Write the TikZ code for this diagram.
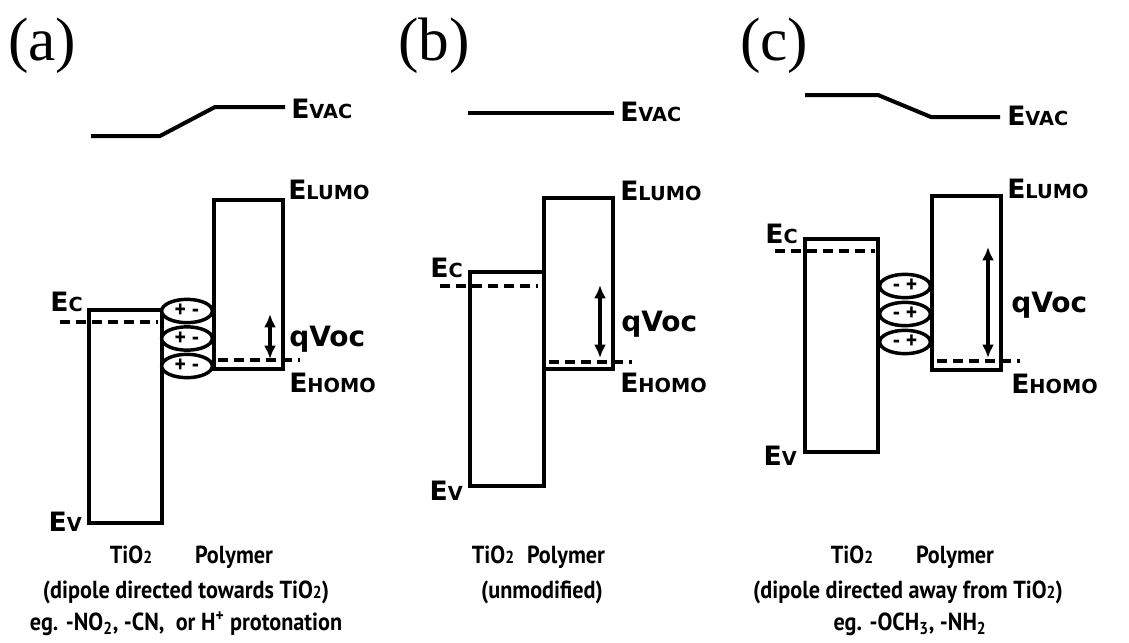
\documentclass[tikz,border=0pt]{standalone}
\usepackage{fontspec}
\setmainfont{Liberation Serif}
\newfontfamily\lblfont{DejaVu Sans}
\newfontfamily\capfont[FakeStretch=0.9]{PT Sans}
\usepackage{tikz}
\usetikzlibrary{arrows.meta, shapes.geometric}

\newcommand{\elev}[1]{{\lblfont\bfseries\fontsize{20}{22}\selectfont E\fontsize{14.5}{16}\selectfont #1}}
\newcommand{\tio}{TiO{\fontsize{13}{14}\selectfont 2}}

\begin{document}
\begin{tikzpicture}[x=0.75pt, y=-0.75pt, >=Latex,
  band/.style={draw, line width=3pt},
  fermi/.style={line width=2.8pt, dash pattern=on 7.5pt off 4.5pt},
  vac/.style={line width=3pt, line join=miter},
  dipole/.style={draw, ellipse, fill=white, line width=2.6pt, minimum width=38pt,
    minimum height=17.5pt, inner sep=0pt, font=\capfont\bfseries\fontsize{18}{18}\selectfont},
  voc/.style={{Latex[length=10pt,width=9pt]}-{Latex[length=10pt,width=9pt]}, line width=2.4pt},
  elbl/.style={anchor=base west, inner sep=0pt},
  elblr/.style={anchor=base east, inner sep=0pt},
  vlbl/.style={anchor=base west, inner sep=0pt, font=\lblfont\bfseries\fontsize{21}{22}\selectfont},
  panel/.style={anchor=base west, inner sep=0pt, font=\fontsize{46}{48}\selectfont},
  caplbl/.style={anchor=base, inner sep=0pt, font=\capfont\bfseries\fontsize{18.5}{20}\selectfont}]
\useasboundingbox (0,0) rectangle (1129,643);

% (a) dipole towards TiO2
\node[panel] (pa) at (8,60) {(a)};
\draw[vac] (91,136) -- (160,136) -- (215,107) -- (285,107);
\node[elbl] (evaca) at (291,118) {\elev{VAC}};
\draw[band] (89,310) rectangle (162,523);
\draw[band] (214,200) rectangle (283,369);
\node[elbl] (lumoa) at (288,199) {\elev{LUMO}};
\node[elbl] (homoa) at (289,392) {\elev{HOMO}};
\node[elblr] (eca) at (83,311) {\elev{C}};
\node[elblr] (eva) at (82,531) {\elev{V}};
\draw[fermi] (60,322) -- (158,322);
\draw[fermi] (218,360) -- (300,360);
\node[dipole] (da1) at (187,311) {+ -};
\node[dipole] (da2) at (187,338.5) {+ -};
\node[dipole] (da3) at (187,366) {+ -};
\coordinate (vta) at (270,314);
\coordinate (vba) at (270,359);
\draw[voc] (vta) -- (vba);
\node[vlbl] (voca) at (289,346) {qVoc};
\node[caplbl] (ta) at (131,563) {\tio};
\node[caplbl] (pola) at (234,563) {Polymer};
\node[caplbl] (notea) at (186,598) {(dipole directed towards \tio)};
\node[caplbl] (exa) at (186,630) {eg. -NO\textsubscript{2}, -CN,\ \ or H\textsuperscript{+} protonation};

% (b) unmodified
\node[panel] (pb) at (398,60) {(b)};
\draw[vac] (468,113) -- (614,113);
\node[elbl] (evacb) at (620,121) {\elev{VAC}};
\draw[band] (470,272) rectangle (544,486);
\draw[band] (544,198) rectangle (613,369);
\node[elbl] (lumob) at (620,200) {\elev{LUMO}};
\node[elbl] (homob) at (620,392) {\elev{HOMO}};
\node[elblr] (ecb) at (463,277) {\elev{C}};
\node[elblr] (evb) at (463,500) {\elev{V}};
\draw[fermi] (440,286) -- (538,286);
\draw[fermi] (549,362) -- (632,362);
\coordinate (vtb) at (600,285);
\coordinate (vbb) at (600,358);
\draw[voc] (vtb) -- (vbb);
\node[vlbl] (vocb) at (621,331) {qVoc};
\node[caplbl] (tb) at (493,563) {\tio};
\node[caplbl] (polb) at (566,563) {Polymer};
\node[caplbl] (noteb) at (542,598) {(unmodified)};

% (c) dipole away from TiO2
\node[panel] (pc) at (740,60) {(c)};
\draw[vac] (805,95) -- (878,95) -- (931,117) -- (1000,117);
\node[elbl] (evacc) at (1007,125) {\elev{VAC}};
\draw[band] (805,239) rectangle (878,452);
\draw[band] (932,196) rectangle (1001,370);
\node[elbl] (lumoc) at (1007,198) {\elev{LUMO}};
\node[elbl] (homoc) at (1011,393) {\elev{HOMO}};
\node[elblr] (ecc) at (798,243) {\elev{C}};
\node[elblr] (evc) at (797,465) {\elev{V}};
\draw[fermi] (775,251) -- (875,251);
\draw[fermi] (937,361) -- (1020,361);
\node[dipole] (dc1) at (905,286) {- +};
\node[dipole] (dc2) at (905,314) {- +};
\node[dipole] (dc3) at (905,342) {- +};
\coordinate (vtc) at (988,247);
\coordinate (vbc) at (988,358);
\draw[voc] (vtc) -- (vbc);
\node[vlbl] (vocc) at (1011,312) {qVoc};
\node[caplbl] (tc) at (852,563) {\tio};
\node[caplbl] (polc) at (955,563) {Polymer};
\node[caplbl] (notec) at (908,598) {(dipole directed away from \tio)};
\node[caplbl] (exc) at (910,630) {eg. -OCH\textsubscript{3}, -NH\textsubscript{2}};
\end{tikzpicture}
\end{document}
